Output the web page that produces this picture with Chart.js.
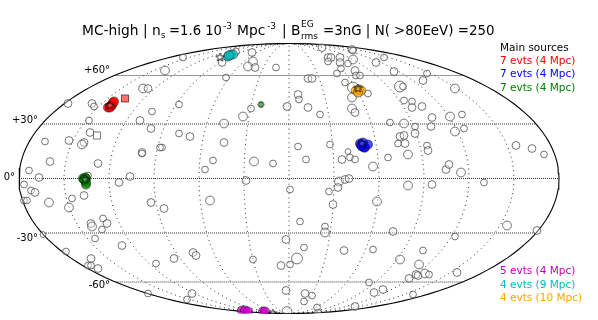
<!DOCTYPE html>
<html>
<head>
<meta charset="utf-8">
<title>MC-high</title>
<script src="https://cdn.jsdelivr.net/npm/chart.js@4/dist/chart.umd.min.js"></script>
<style>
  body { margin: 0; background: #fff; }
  canvas { display: block; }
</style>
</head>
<body>
<canvas id="skyMap" width="598" height="320"></canvas>
<script>
// all positions are in the plane of the Mollweide map: x -270..270, y -135..135
const bgX = [-221,-197,-195,-200,-199,-244,-220,-205,-207,-239,-146,-141,-124,-106,-137,-110,-149,-138,-110,-99,-147,-147,-127,-129,-65,-65,-46,-38,-2,-63,-67,-53,-37,-36,-41,-34,-13,-76,-35,9,10,9,
  33,63,64,39,42,39,51,51,59,64,52,48,66,67,71,87,95,105,138,134,166,111,114,19,23,56,64,63,79,19,31,63,66,115,123,123,133,143,161,173,101,115,126,142,126,166,175,111,115,109,116,138,139,41,59,227,243,255,119,99,53,61,66,17,
  -260,-250,-265,-258,-254,-265,-262,-240,-217,-220,-205,-201,-191,-170,-159,-138,-125,-79,-84,-43,-16,1,11,-186,-182,-198,-197,-187,-194,-246,-223,-167,-198,-201,-198,-191,-133,-115,-96,-93,-36,-8,1,-3,8,-3,-141,-97,-102,-2,
  84,157,160,172,50,56,60,49,40,44,88,119,143,195,36,36,104,15,55,84,134,166,218,248,111,130,127,129,136,140,120,168,80,85,94,124,16,23,15,28,29,66];
const bgY = [75,75,72,58,46,37,38,36,34,17,90,90,108,121,67,74,58,50,45,42,26,25,31,31,55,36,62,70,72,101,116,127,126,117,112,111,111,18,17,84,79,32,
  131,129,128,121,121,117,121,116,115,119,110,105,108,103,103,116,121,107,105,98,90,92,92,100,100,96,91,81,85,71,64,70,66,78,77,71,72,61,62,64,56,55,52,52,45,47,50,42,43,35,35,33,28,34,27,33,30,24,24,21,19,21,19,19,
  8,1,-6,-12,-14,-22,-22,-24,-20,-29,-17,3,15,-4,2,-24,-30,-22,9,-2,15,-11,-43,-40,-45,-45,-48,-51,-60,-56,-73,-67,-80,-87,-87,-90,-85,-80,-74,-77,-81,-87,-86,-61,-80,-112,-115,-115,-121,-133,
  12,9,14,6,-3,-1,0,-9,-13,-26,-23,-7,-6,-4,-48,-54,-53,-69,-72,-71,-72,-58,-47,-52,-81,-86,-96,-97,-95,-96,-100,-94,-104,-114,-111,-116,-115,-117,-123,-129,-134,-128];
const bgEnergy = [120,120,100,100,120,100,120,120,140,120,140,120,140,100,100,100,120,120,100,120,120,100,100,100,140,120,140,100,120,100,120,100,120,140,140,120,100,100,140,120,100,100,
  120,120,100,120,120,100,120,120,100,140,100,100,120,100,100,120,100,120,100,120,140,180,100,120,120,100,180,140,100,120,100,140,120,100,100,120,120,120,140,100,100,140,100,120,120,140,100,120,120,100,120,100,120,100,80,120,120,100,140,100,120,100,100,100,
  100,120,100,100,120,100,100,140,100,140,120,100,120,120,120,120,120,140,100,120,100,100,100,100,120,120,140,100,100,80,100,120,120,100,100,120,100,120,120,120,100,120,100,120,180,120,100,120,100,160,
  140,120,120,140,140,120,120,120,100,120,140,140,120,100,100,140,120,100,120,100,100,100,140,120,140,140,120,120,140,100,120,120,100,120,120,100,120,100,100,100,100,120];

const redX = [-181,-179,-178,-177,-176,-175,-179];
const redY = [71,72,73,73,76,77,71];
const blueX = [71,73,75,76,79,74,72];
const blueY = [35,32,31,31,34,36,33];
const greenX = [-206,-204,-203,-204,-203,-203,-205];
const greenY = [0,1,0,-2,-4,-6,-1];
const magentaX = [-47,-44,-41,-26,-24];
const magentaY = [-132,-132,-133,-133,-133];
const cyanX = [-61,-58,-56,-60];
const cyanY = [122,124,124,123];
const orangeX = [67,70,72,69];
const orangeY = [88,89,88,86];

// source positions: red, blue, green, magenta, cyan, orange
const starX = [-179,73,-204,-16,-69,69];
const starY = [73,35,-1,-135,121,90];
const squareX = [-164,-192];
const squareY = [80,43];
const hexX = [-28];
const hexY = [74];

const parallels = [103,54.5,0,-54.5,-103.5];
const meridians = [-150,-120,-90,-60,-30,0,30,60,90,120,150];
const latLabels = ['+60°','+30°','0°','-30°','-60°'];

const sourceLabels = ['7 evts (4 Mpc)','7 evts (4 Mpc)','7 evts (4 Mpc)','5 evts (4 Mpc)','4 evts (9 Mpc)','4 evts (10 Mpc)'];
const sourceColors = ['#ff0000','#0000ff','#008000','#bf00bf','#00bfbf','#ffa500'];

function pts(xs, ys) {
  return xs.map((x, i) => ({ x, y: ys[i] }));
}

function ellipseLine(lon) {
  const line = [];
  for (let i = 0; i <= 80; i++) {
    const t = -Math.PI / 2 + Math.PI * i / 80;
    line.push({ x: 270 * (lon / 180) * Math.cos(t), y: 135 * Math.sin(t) });
  }
  return line;
}

function makeMarker(points, rotate, fill) {
  const c = document.createElement('canvas');
  c.width = 13; c.height = 13;
  const g = c.getContext('2d');
  g.beginPath();
  points.forEach((r, i) => {
    const a = rotate + i * 2 * Math.PI / points.length;
    g.lineTo(6.5 + r * Math.cos(a), 6.5 + r * Math.sin(a));
  });
  g.closePath();
  g.fillStyle = fill;
  g.fill();
  g.strokeStyle = 'rgba(0,0,0,0.9)';
  g.lineWidth = 0.9;
  g.stroke();
  return c;
}

const starMark = makeMarker([4.4,1.9,4.4,1.9,4.4,1.9,4.4,1.9,4.4,1.9], -Math.PI / 2, 'rgba(255,255,255,0.25)');
const hexMark = makeMarker([3,3,3,3,3,3], 0, 'rgba(60,160,60,0.8)');

function eventSet(xs, ys, color) {
  return {
    data: pts(xs, ys), showLine: false, clip: 0,
    pointRadius: 4.6, pointBackgroundColor: color,
    pointBorderColor: 'rgba(0,0,0,0.6)', pointBorderWidth: 0.7
  };
}

const datasets = [
  { data: pts(starX, starY), showLine: false, clip: 0, pointStyle: starMark },
  { data: pts(hexX, hexY), showLine: false, pointStyle: hexMark },
  { data: pts(squareX.slice(0, 1), squareY.slice(0, 1)), showLine: false, pointStyle: 'rect', pointRadius: 5, pointBackgroundColor: 'rgba(255,90,90,0.85)', pointBorderColor: 'rgba(60,0,0,0.7)', pointBorderWidth: 0.9 },
  { data: pts(squareX.slice(1), squareY.slice(1)), showLine: false, pointStyle: 'rect', pointRadius: 5, pointBackgroundColor: 'rgba(255,255,255,0.4)', pointBorderColor: 'rgba(60,60,60,0.75)', pointBorderWidth: 0.9 },
  eventSet(redX, redY, 'rgba(255,0,0,0.8)'),
  eventSet(blueX, blueY, 'rgba(0,0,255,0.7)'),
  eventSet(greenX, greenY, 'rgba(0,128,0,0.75)'),
  eventSet(magentaX, magentaY, 'rgba(204,0,204,0.75)'),
  eventSet(cyanX, cyanY, 'rgba(0,191,191,0.75)'),
  eventSet(orangeX, orangeY, 'rgba(255,165,0,0.75)'),
  {
    data: pts(bgX, bgY), showLine: false, clip: 0,
    pointRadius: bgEnergy.map(e => 2.9 + (e - 80) / 40),
    pointBackgroundColor: 'rgba(255,255,255,0.35)',
    pointBorderColor: 'rgba(70,70,70,0.75)', pointBorderWidth: 1
  },
  { data: ellipseLine(180).concat(ellipseLine(-180).reverse()), showLine: true, pointRadius: 0, borderColor: '#000', borderWidth: 1.1, clip: false, tension: 0 }
];

parallels.forEach(y => {
  const half = 270 * Math.sqrt(1 - (y / 135) * (y / 135));
  datasets.push({ data: [{ x: -half, y }, { x: half, y }], showLine: true, pointRadius: 0, borderColor: '#333', borderWidth: 1, borderDash: [1, 1] });
});
meridians.forEach(lon => {
  datasets.push({ data: ellipseLine(lon), showLine: true, pointRadius: 0, borderColor: '#333', borderWidth: 1, borderDash: [1, 3.6] });
});

// title, lat labels and source list
const textPlugin = {
  id: 'mapText',
  afterDraw(chart) {
    const g = chart.ctx;
    const put = (s, px, py, size, color, align) => {
      g.font = size + 'px "DejaVu Sans"';
      g.fillStyle = color || '#000';
      g.textAlign = align || 'left';
      g.textBaseline = 'alphabetic';
      g.fillText(s, px, py);
    };
    g.save();
    put('MC-high | n', 82, 35, 13.8);
    put('s', 161, 38, 8.5);
    put('=1.6 10', 169, 35, 13.2);
    put('-3', 223, 29, 9);
    put('Mpc', 237, 35, 13.8);
    put('-3', 267, 29, 9);
    put('| B', 282, 35, 13.8);
    put('EG', 301, 27, 9);
    put('rms', 301, 39, 9);
    put('=3nG | N( >80EeV) =250', 323, 35, 13.4);

    const labelPos = [[110, 72.5], [38, 122.5], [15, 179.5], [38, 240.5], [110, 287.5]];
    latLabels.forEach((s, i) => put(s, labelPos[i][0], labelPos[i][1], 10, '#000', 'right'));

    put('Main sources', 500, 50.5, 10.5);
    const legendY = [64, 77, 91, 274, 288, 301];
    sourceLabels.forEach((s, i) => put(s, 500, legendY[i], 10.5, sourceColors[i]));
    g.restore();
  }
};

new Chart(document.getElementById('skyMap').getContext('2d'), {
  type: 'scatter',
  data: { datasets },
  plugins: [textPlugin],
  options: {
    responsive: false,
    animation: false,
    layout: { padding: { left: 19, right: 39, top: 43.5, bottom: 6.5 } },
    scales: {
      x: { type: 'linear', min: -270, max: 270, display: false },
      y: { type: 'linear', min: -135, max: 135, display: false }
    },
    plugins: { legend: { display: false }, tooltip: { enabled: false } }
  }
});
</script>
</body>
</html>
